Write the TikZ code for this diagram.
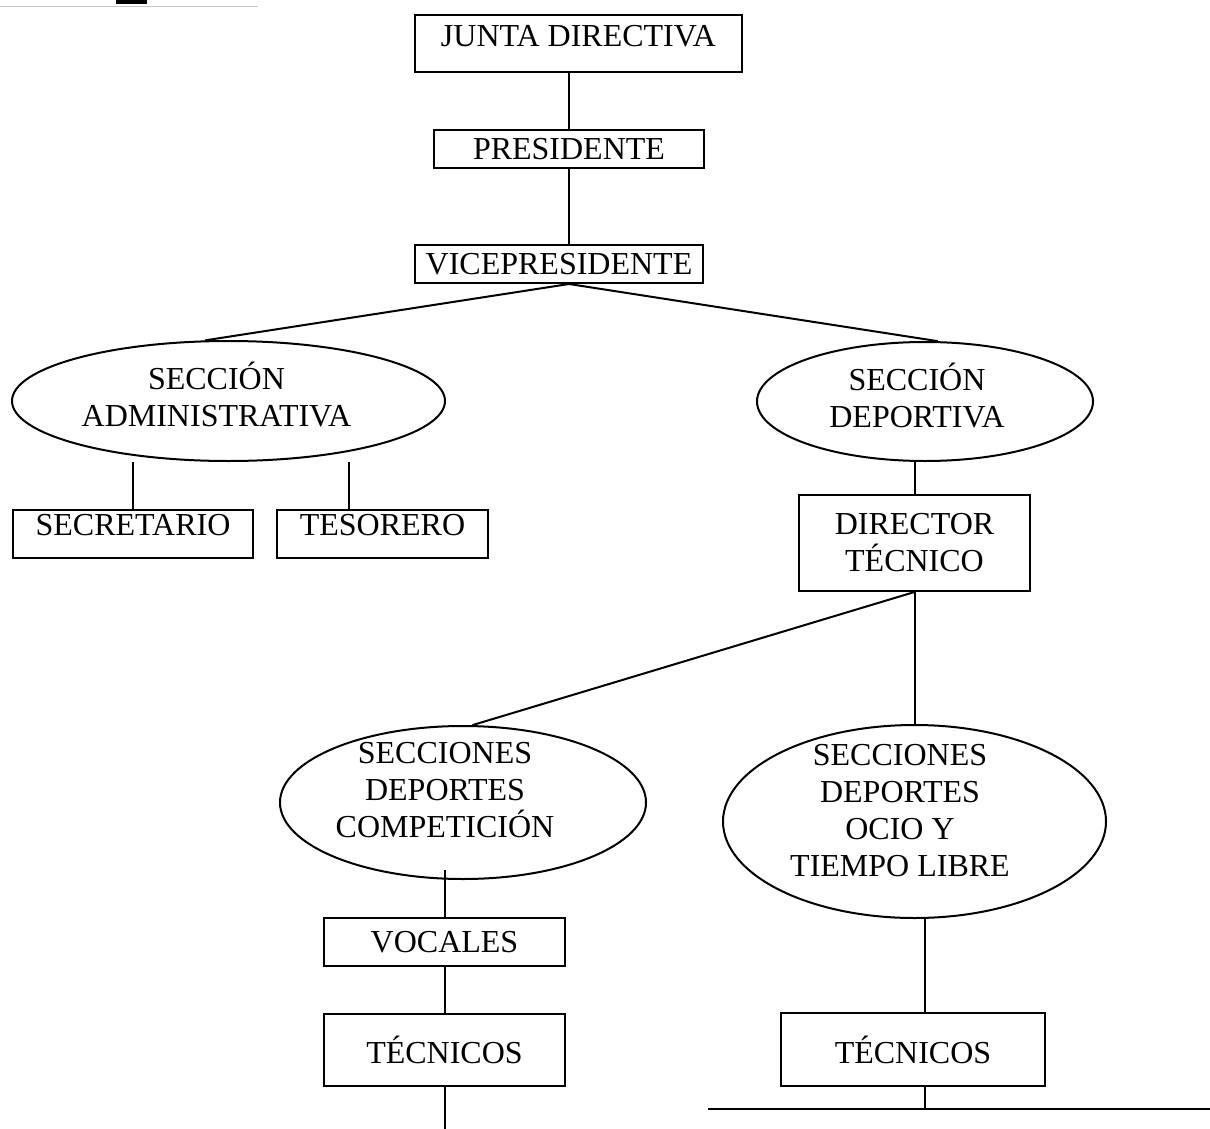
\documentclass[tikz,border=0pt]{standalone}
\usepackage{fontspec}
\setmainfont{Liberation Serif}
\usetikzlibrary{shapes.geometric}
\tikzset{
  caja/.style={draw, rectangle, inner sep=0pt},
  elipse/.style={draw, ellipse, inner sep=0pt},
}
\begin{document}
\begin{tikzpicture}[x=0.5pt, y=-0.5pt, every path/.style={line width=1pt}, font=\fontsize{16}{18.5}\selectfont]
	\useasboundingbox (0,0) rectangle (1210,1129);
	% restos del escaneo
	\fill (116,0) rectangle (147,4);
	\draw[line width=0.5pt, black!22] (0,7) -- (258,7);
	% cargos
	\node[caja, minimum width=163.5pt, minimum height=28.5pt, text depth=8pt] (junta) at (578.5,43.5) {JUNTA DIRECTIVA};
	\node[caja, minimum width=135pt, minimum height=19pt] (presi) at (569,149) {PRESIDENTE};
	\node[caja, minimum width=144pt, minimum height=19pt] (vice) at (559,264) {VICEPRESIDENTE};
	\node[elipse, minimum width=216.5pt, minimum height=60pt, label={[align=center, xshift=-6pt, yshift=3pt]center:SECCIÓN\\ADMINISTRATIVA}] (adm) at (228.5,401) {};
	\node[elipse, minimum width=168pt, minimum height=59.5pt, label={[align=center, xshift=-4pt, yshift=3pt]center:SECCIÓN\\DEPORTIVA}] (dep) at (925,401.5) {};
	\node[caja, minimum width=120pt, minimum height=24pt, text depth=9pt] (secre) at (133,534) {SECRETARIO};
	\node[caja, minimum width=105.5pt, minimum height=24pt, text depth=9pt] (teso) at (382.5,534) {TESORERO};
	\node[caja, minimum width=115.5pt, minimum height=48pt, align=center] (dirt) at (914.5,543) {DIRECTOR\\TÉCNICO};
	\node[elipse, minimum width=183pt, minimum height=76.5pt, label={[align=center, xshift=-9pt, yshift=6pt]center:SECCIONES\\DEPORTES\\COMPETICIÓN}] (comp) at (463,802.5) {};
	\node[elipse, minimum width=191.5pt, minimum height=96.5pt, label={[align=center, xshift=-7.25pt, yshift=5.25pt]center:SECCIONES\\DEPORTES\\OCIO Y\\TIEMPO LIBRE}] (ocio) at (914.5,821.5) {};
	\node[caja, minimum width=120.5pt, minimum height=24pt] (vocal) at (444.5,942) {VOCALES};
	\node[caja, minimum width=120.5pt, minimum height=36pt] (tec1) at (444.5,1050) {TÉCNICOS};
	\node[caja, minimum width=132pt, minimum height=36.5pt] (tec2) at (913,1049.5) {TÉCNICOS};
	\coordinate (fin) at (444.5,1129);
	\coordinate (raya izq) at (708,1109);
	\coordinate (raya der) at (1210,1109);
	% lineas
	\draw (junta.south -| presi.north) -- (presi.north);
	\draw (presi.south) -- (presi.south |- vice.north);
	\draw (presi.south |- vice.south) -- (adm.111);
	\draw (presi.south |- vice.south) -- (dep.78);
	\draw (secre.north) -- (secre.north |- adm.south);
	\draw ([xshift=-16.75pt]teso.north) -- ([xshift=-16.75pt]teso.north |- adm.south);
	\draw (dirt.north) -- (dirt.north |- dep.south);
	\draw (dirt.south) -- (comp.83);
	\draw (dirt.south) -- (dirt.south |- ocio.north);
	\draw (vocal.north) -- ([yshift=5pt]vocal.north |- comp.south);
	\draw (vocal.south) -- (tec1.north);
	\draw (tec1.south) -- (fin);
	\draw ([xshift=5.25pt]ocio.south) -- ([xshift=5.25pt]ocio.south |- tec2.north);
	\draw ([xshift=5.25pt]ocio.south |- tec2.south) -- ([xshift=5.25pt]ocio.south |- raya izq);
	\draw (raya izq) -- (raya der);
\end{tikzpicture}
\end{document}
